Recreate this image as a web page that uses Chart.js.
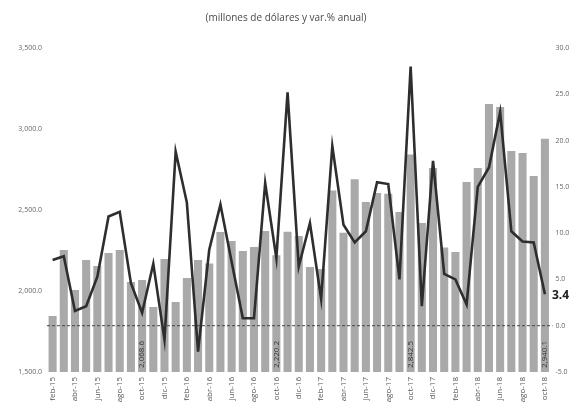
<!DOCTYPE html>
<html>
<head>
<meta charset="utf-8">
<script src="https://cdn.jsdelivr.net/npm/chart.js@4/dist/chart.umd.min.js"></script>
<style>
  html, body { margin: 0; padding: 0; background: #fff; }
  #wrap { width: 572px; height: 409px; }
</style>
</head>
<body>
<div id="wrap"><canvas id="c" width="572" height="409"></canvas></div>
<script>
const categories = [
  'feb-15','mar-15','abr-15','may-15','jun-15','jul-15','ago-15','sep-15','oct-15','nov-15','dic-15',
  'ene-16','feb-16','mar-16','abr-16','may-16','jun-16','jul-16','ago-16','sep-16','oct-16','nov-16','dic-16',
  'ene-17','feb-17','mar-17','abr-17','may-17','jun-17','jul-17','ago-17','sep-17','oct-17','nov-17','dic-17',
  'ene-18','feb-18','mar-18','abr-18','may-18','jun-18','jul-18','ago-18','sep-18','oct-18'
];
const exportsMillions = [
  1845, 2253, 2006, 2191, 2154, 2235, 2253, 2056, 2068.6, 1901, 2198,
  1932, 2080, 2191, 2170, 2364, 2309, 2247, 2272, 2370, 2220.2, 2366, 2340,
  2148, 2136, 2620, 2360, 2690, 2549, 2605, 2600, 2488, 2842.5, 2420, 2760,
  2268, 2240, 2673, 2759, 3154, 3136, 2864, 2852, 2710, 2940.1
];
const annualChange = [
  7.1, 7.5, 1.6, 2.1, 5.3, 11.8, 12.3, 4.6, 1.4, 6.7, -1.5,
  18.8, 13.3, -2.8, 8.2, 13.1, 6.9, 0.8, 0.8, 15.4, 7.3, 25.2, 6.4,
  11.1, 2.9, 19.4, 10.9, 9.0, 10.2, 15.5, 15.3, 5.0, 28.0, 2.1, 17.8,
  5.6, 5.0, 2.3, 15.0, 17.1, 23.1, 10.2, 9.1, 9.0, 3.4
];
const leftTicks = [1500, 2000, 2500, 3000, 3500];
const rightTicks = [-5, 0, 5, 10, 15, 20, 25, 30];
const titleText = '(millones de dólares y var.% anual)';

const fmt1 = v => Number(v).toLocaleString('en-US', {minimumFractionDigits: 1, maximumFractionDigits: 1});

const overlay = {
  id: 'overlay',
  afterDatasetsDraw(chart) {
    const ctx = chart.ctx;
    const area = chart.chartArea;
    const y1 = chart.scales.y1;
    const y = chart.scales.y;
    // dashed zero line
    const yz = y1.getPixelForValue(0);
    ctx.save();
    ctx.strokeStyle = '#444';
    ctx.lineWidth = 1;
    ctx.setLineDash([3, 2]);
    ctx.beginPath();
    ctx.moveTo(area.left, yz);
    ctx.lineTo(area.right + 2, yz);
    ctx.stroke();
    ctx.restore();
    // October bar labels
    const barMeta = chart.getDatasetMeta(1);
    ctx.save();
    ctx.fillStyle = '#333';
    ctx.font = '8px "Open Sans", sans-serif';
    ctx.textAlign = 'left';
    ctx.textBaseline = 'middle';
    const yb = y.getPixelForValue(1500);
    barMeta.data.forEach((el, i) => {
      if (categories[i].startsWith('oct')) {
        ctx.save();
        ctx.translate(el.x, yb - 4);
        ctx.rotate(-Math.PI / 2);
        ctx.fillText(fmt1(exportsMillions[i]), 0, 0);
        ctx.restore();
      }
    });
    ctx.restore();
    // last line value label
    const lineMeta = chart.getDatasetMeta(0);
    const last = lineMeta.data[lineMeta.data.length - 1];
    ctx.save();
    ctx.fillStyle = '#222';
    ctx.font = 'bold 12px "Open Sans", sans-serif';
    ctx.textAlign = 'left';
    ctx.textBaseline = 'middle';
    ctx.fillText(fmt1(annualChange[annualChange.length - 1]), last.x + 7, last.y + 1);
    ctx.restore();
  }
};

new Chart(document.getElementById('c'), {
  data: {
    labels: categories,
    datasets: [
      {
        type: 'line',
        data: annualChange,
        yAxisID: 'y1',
        borderColor: '#2e2e2e',
        borderWidth: 2.6,
        pointRadius: 0,
        tension: 0,
        order: 0
      },
      {
        type: 'bar',
        data: exportsMillions,
        yAxisID: 'y',
        backgroundColor: '#a9a9a9',
        barPercentage: 0.72,
        categoryPercentage: 1.0,
        order: 1
      }
    ]
  },
  options: {
    responsive: false,
    animation: false,
    layout: { padding: 0 },
    plugins: {
      legend: { display: false },
      tooltip: { enabled: false },
      title: {
        display: true,
        text: titleText,
        color: '#4a4a4a',
        font: { size: 10, family: '"Open Sans", sans-serif', weight: 'normal' },
        padding: { top: 12, bottom: 24 }
      }
    },
    scales: {
      x: {
        offset: true,
        grid: { display: false, drawTicks: false },
        border: { display: false },
        ticks: {
          autoSkip: false,
          maxRotation: 90,
          minRotation: 90,
          padding: 5,
          color: '#555',
          font: { size: 8, family: '"Open Sans", sans-serif' },
          callback: (v, i) => (i % 2 === 0 ? categories[i] : '')
        },
        afterFit: s => { s.height = 37; }
      },
      y: {
        position: 'left',
        min: leftTicks[0],
        max: leftTicks[leftTicks.length - 1],
        afterBuildTicks: s => { s.ticks = leftTicks.map(v => ({ value: v })); },
        grid: { display: false, drawTicks: false },
        border: { display: false },
        ticks: {
          padding: 5,
          color: '#666',
          font: { size: 7, family: '"Open Sans", sans-serif' },
          callback: v => fmt1(v)
        },
        afterFit: s => { s.width = 47; }
      },
      y1: {
        position: 'right',
        min: rightTicks[0],
        max: rightTicks[rightTicks.length - 1],
        afterBuildTicks: s => { s.ticks = rightTicks.map(v => ({ value: v })); },
        grid: { display: false, drawTicks: false },
        border: { display: false },
        ticks: {
          padding: 5,
          color: '#666',
          font: { size: 7, family: '"Open Sans", sans-serif' },
          callback: v => fmt1(v)
        },
        afterFit: s => { s.width = 21.5; }
      }
    }
  },
  plugins: [overlay]
});
</script>
</body>
</html>
